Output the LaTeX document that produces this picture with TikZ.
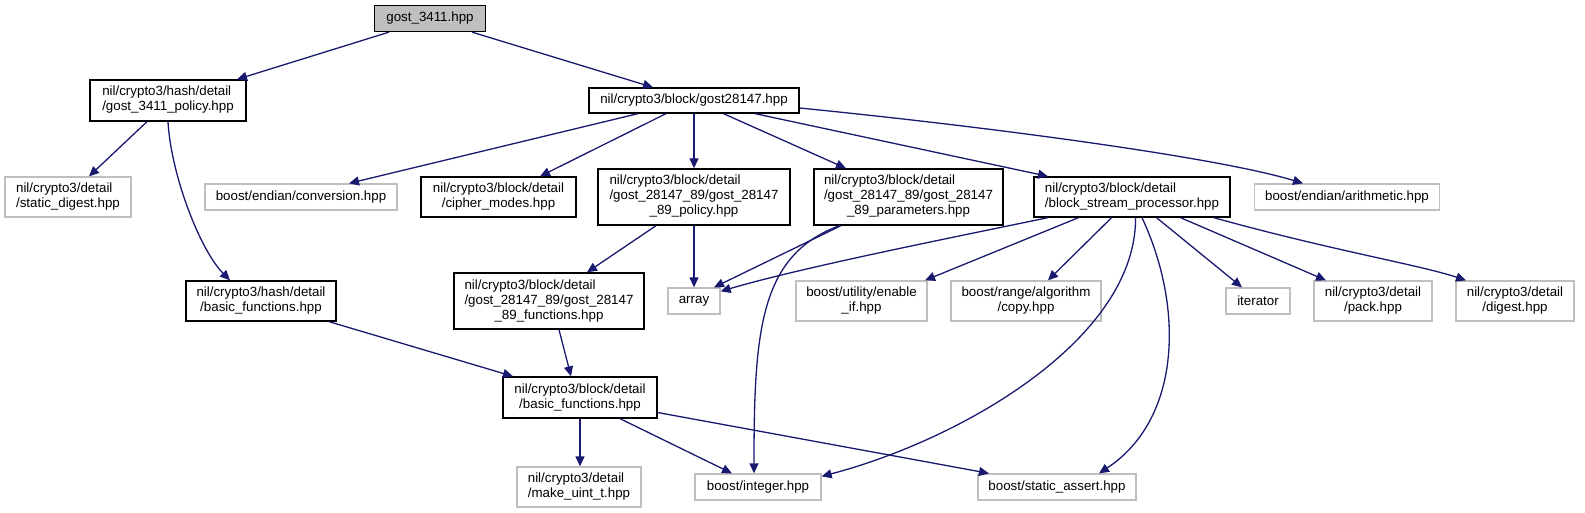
\documentclass[tikz,border=0pt]{standalone}
\usepackage{fontspec}
\setmainfont{Liberation Sans}
\usetikzlibrary{arrows.meta}
\definecolor{navy}{HTML}{191970}
\definecolor{extgray}{HTML}{BFBFBF}
\definecolor{rootfill}{HTML}{BFBFBF}
\newcommand{\fs}{\fontsize{13.33}{15}\selectfont}
\newcommand{\twol}[2]{\begin{tabular}{@{}l@{}}#1\\\multicolumn{1}{@{}c@{}}{#2}\end{tabular}}
\newcommand{\threel}[3]{\begin{tabular}{@{}l@{}}#1\\#2\\\multicolumn{1}{@{}c@{}}{#3}\end{tabular}}
\tikzset{
  inbox/.style={draw=black, fill=white, line width=1.3pt, inner sep=0pt, font=\fs, align=center},
  exbox/.style={draw=extgray, fill=white, line width=1.3pt, inner sep=0pt, font=\fs, align=center},
  rootbox/.style={draw=black, fill=rootfill, line width=1.3pt, inner sep=0pt, font=\fs},
  edge/.style={draw=navy, line width=1.3pt, -{Triangle[length=10pt,width=9pt]}}
}
\begin{document}
\begin{tikzpicture}[x=1pt,y=-1pt]
\useasboundingbox (0,0) rectangle (1585,513);
% row 0
\node[rootbox, minimum width=111, minimum height=26] (gost) at (430,18.5) {gost\_3411.hpp};
% row 1
\node[inbox, minimum width=156, minimum height=41] (policy) at (168,100.5) {\twol{nil/crypto3/hash/detail}{/gost\_3411\_policy.hpp}};
\node[inbox, minimum width=210, minimum height=25] (g28) at (694,100.5) {nil/crypto3/block/gost28147.hpp};
% row 2
\node[exbox, minimum width=126, minimum height=40] (sdig) at (68,197) {\twol{nil/crypto3/detail}{/static\_digest.hpp}};
\node[exbox, minimum width=192, minimum height=26] (conv) at (301,197) {boost/endian/conversion.hpp};
\node[inbox, minimum width=155, minimum height=40] (cm) at (498.5,197) {\twol{nil/crypto3/block/detail}{/cipher\_modes.hpp}};
\node[inbox, minimum width=192, minimum height=56] (p89) at (694,197) {\threel{nil/crypto3/block/detail}{/gost\_28147\_89/gost\_28147}{\_89\_policy.hpp}};
\node[inbox, minimum width=189, minimum height=56] (par) at (908.5,197) {\threel{nil/crypto3/block/detail}{/gost\_28147\_89/gost\_28147}{\_89\_parameters.hpp}};
\node[inbox, minimum width=196, minimum height=40] (bsp) at (1132,197) {\twol{nil/crypto3/block/detail}{/block\_stream\_processor.hpp}};
\node[exbox, minimum width=185, minimum height=26] (arith) at (1347,197) {boost/endian/arithmetic.hpp};
% row 3
\node[inbox, minimum width=150, minimum height=40] (hbasic) at (261,301) {\twol{nil/crypto3/hash/detail}{/basic\_functions.hpp}};
\node[inbox, minimum width=190, minimum height=56] (f89) at (549,301) {\threel{nil/crypto3/block/detail}{/gost\_28147\_89/gost\_28147}{\_89\_functions.hpp}};
\node[exbox, minimum width=52, minimum height=26] (arr) at (694,301) {array};
\node[exbox, minimum width=131, minimum height=40] (enab) at (861.5,301) {\twol{boost/utility/enable}{\_if.hpp}};
\node[exbox, minimum width=150, minimum height=40] (copy) at (1026,301) {\twol{boost/range/algorithm}{/copy.hpp}};
\node[exbox, minimum width=64, minimum height=26] (iter) at (1258,301) {iterator};
\node[exbox, minimum width=118, minimum height=40] (pack) at (1373,301) {\twol{nil/crypto3/detail}{/pack.hpp}};
\node[exbox, minimum width=118, minimum height=40] (dig) at (1515,301) {\twol{nil/crypto3/detail}{/digest.hpp}};
% row 4
\node[inbox, minimum width=154, minimum height=41] (bbasic) at (580,397.5) {\twol{nil/crypto3/block/detail}{/basic\_functions.hpp}};
% row 5
\node[exbox, minimum width=124, minimum height=40] (mu) at (579,487) {\twol{nil/crypto3/detail}{/make\_uint\_t.hpp}};
\node[exbox, minimum width=126, minimum height=26] (int) at (758,487) {boost/integer.hpp};
\node[exbox, minimum width=158, minimum height=26] (sa) at (1057,487) {boost/static\_assert.hpp};
% edges
\draw[edge] ([xshift=-41pt]gost.south) -- ([xshift=69pt]policy.north);
\draw[edge] ([xshift=42pt]gost.south) -- ([xshift=-41pt]g28.north);
\draw[edge] ([xshift=-21pt]policy.south) -- ([xshift=21pt]sdig.north);
\draw[edge] (policy.south) .. controls (171,175) and (200,250) .. ([xshift=-31pt]hbasic.north);
\draw[edge] ([xshift=68pt]hbasic.south) -- ([xshift=-67pt]bbasic.north);
\draw[edge] ([xshift=-56pt]g28.south) -- ([xshift=48pt]conv.north);
\draw[edge] ([xshift=-28pt]g28.south) -- ([xshift=41.5pt]cm.north);
\draw[edge] (g28.south) -- (p89.north);
\draw[edge] ([xshift=29.5pt]g28.south) -- ([xshift=-62.5pt]par.north);
\draw[edge] ([xshift=61pt]g28.south) -- ([xshift=-84pt]bsp.north);
\draw[edge] ([yshift=-7.5pt]g28.east) .. controls (1000,128) and (1220,158) .. ([xshift=-44pt]arith.north);
\draw[edge] ([xshift=-38pt]p89.south) -- ([xshift=38pt]f89.north);
\draw[edge] (p89.south) -- (arr.north);
\draw[edge] ([xshift=-67.5pt]par.south) -- ([xshift=20pt]arr.north);
\draw[edge] ([xshift=-69pt]par.south) .. controls (760,255) and (754,330) .. ([xshift=-4pt]int.north);
\draw[edge] ([xshift=-84pt]bsp.south) .. controls (940,240) and (800,268) .. ([yshift=-4pt]arr.north east);
\draw[edge] ([xshift=-53.5pt]bsp.south) -- ([xshift=63.5pt]enab.north);
\draw[edge] ([xshift=-20.4pt]bsp.south) -- ([xshift=22pt]copy.north);
\draw[edge] ([xshift=3.6pt]bsp.south) .. controls (1136,340) and (960,440) .. ([yshift=-3pt]int.north east);
\draw[edge] ([xshift=10pt]bsp.south) .. controls (1185,310) and (1180,420) .. ([xshift=42pt]sa.north);
\draw[edge] ([xshift=24.5pt]bsp.south) -- ([xshift=-16pt]iter.north);
\draw[edge] ([xshift=48.5pt]bsp.south) -- ([xshift=-47pt]pack.north);
\draw[edge] ([xshift=81.7pt]bsp.south) .. controls (1330,250) and (1420,265) .. ([xshift=-49pt]dig.north);
\draw[edge] ([xshift=10pt]f89.south) -- ([xshift=-9pt]bbasic.north);
\draw[edge] (bbasic.south) -- ([xshift=1pt]mu.north);
\draw[edge] ([xshift=40pt]bbasic.south) -- ([xshift=-26pt]int.north);
\draw[edge] ([yshift=-15pt]bbasic.east) -- ([xshift=-68pt]sa.north);
\end{tikzpicture}
\end{document}
